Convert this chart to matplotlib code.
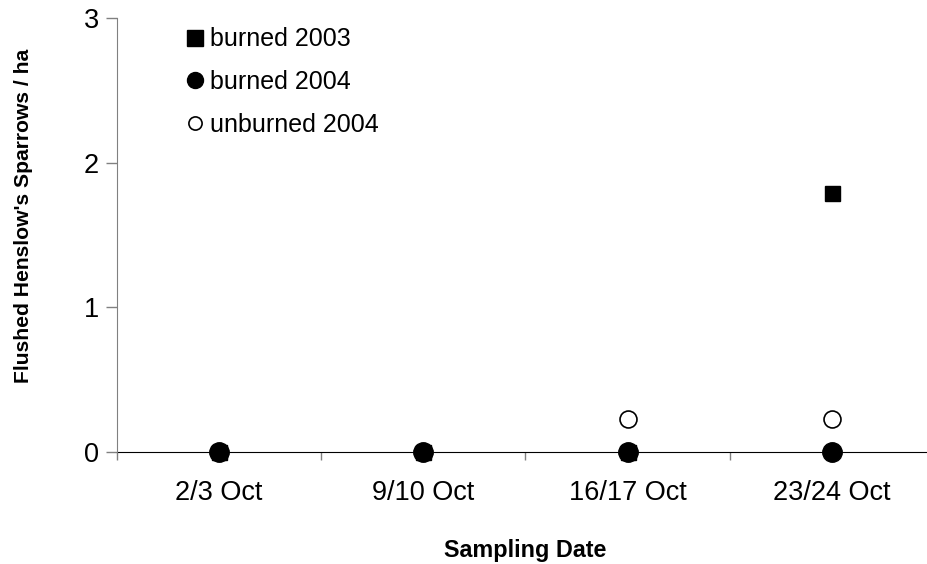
import matplotlib
matplotlib.use("Agg")
import matplotlib.pyplot as plt
from matplotlib.lines import Line2D

plt.rcParams["font.family"] = ["Liberation Sans", "DejaVu Sans"]

dates = ["2/3 Oct", "9/10 Oct", "16/17 Oct", "23/24 Oct"]
burned_2003 = [0, 0, 0, 1.79]
burned_2004 = [0, 0, 0, 0]
unburned_2004 = [0, 0, 0.23, 0.23]
y_ticks = [0, 1, 2, 3]

INK = "#000000"
AXIS_GREY = "#808080"

fig = plt.figure(figsize=(9.28, 5.64), dpi=100)
ax = fig.add_axes([117 / 928, 1 - 452 / 564, (934 - 117) / 928, (452 - 18) / 564])

x = list(range(len(dates)))
ax.plot(x, burned_2003, linestyle="none", marker="s", markersize=10.8,
        color=INK, clip_on=False, zorder=3)
ax.plot(x, unburned_2004, linestyle="none", marker="o", markersize=12.2,
        markerfacecolor="white", markeredgecolor=INK, markeredgewidth=1.2,
        clip_on=False, zorder=4)
ax.plot(x, burned_2004, linestyle="none", marker="o", markersize=14,
        color=INK, clip_on=False, zorder=5)

ax.set_xlim(-0.5, len(dates) - 0.5)
ax.set_ylim(0, 3)
ax.set_yticks(y_ticks)
ax.set_xticks(x)
ax.set_xticklabels(dates)
ax.tick_params(axis="x", which="major", length=0, pad=20, labelsize=19.5)
ax.set_xticks([i + 0.5 for i in range(-1, len(dates) - 1)], minor=True)
ax.tick_params(axis="x", which="minor", length=6, width=1, color=AXIS_GREY, direction="out")
ax.tick_params(axis="y", length=8, width=1, color=AXIS_GREY, direction="out", pad=5, labelsize=19.5)

for side in ("top", "right"):
    ax.spines[side].set_visible(False)
ax.spines["left"].set_color(AXIS_GREY)
ax.spines["bottom"].set_color(INK)
ax.spines["bottom"].set_zorder(2)

ax.set_xlabel("Sampling Date", fontsize=16.8, fontweight="bold")
ax.set_ylabel("Flushed Henslow's Sparrows / ha", fontsize=15.2, fontweight="bold")
ax.xaxis.set_label_coords(0.5, -0.2)
ax.yaxis.set_label_coords(-0.103, 0.544)

handles = [
    Line2D([], [], linestyle="none", marker="s", markersize=11, color=INK),
    Line2D([], [], linestyle="none", marker="o", markersize=11.5, color=INK),
    Line2D([], [], linestyle="none", marker="o", markersize=9.5, markerfacecolor="white",
           markeredgecolor=INK, markeredgewidth=1.2),
]
ax.legend(handles, ["burned 2003", "burned 2004", "unburned 2004"], frameon=False,
          loc="upper left", bbox_to_anchor=(0.059, 1.03), fontsize=18,
          handlelength=0.6, handletextpad=0.3, labelspacing=0.75)

fig.savefig("out.png", dpi=100)
